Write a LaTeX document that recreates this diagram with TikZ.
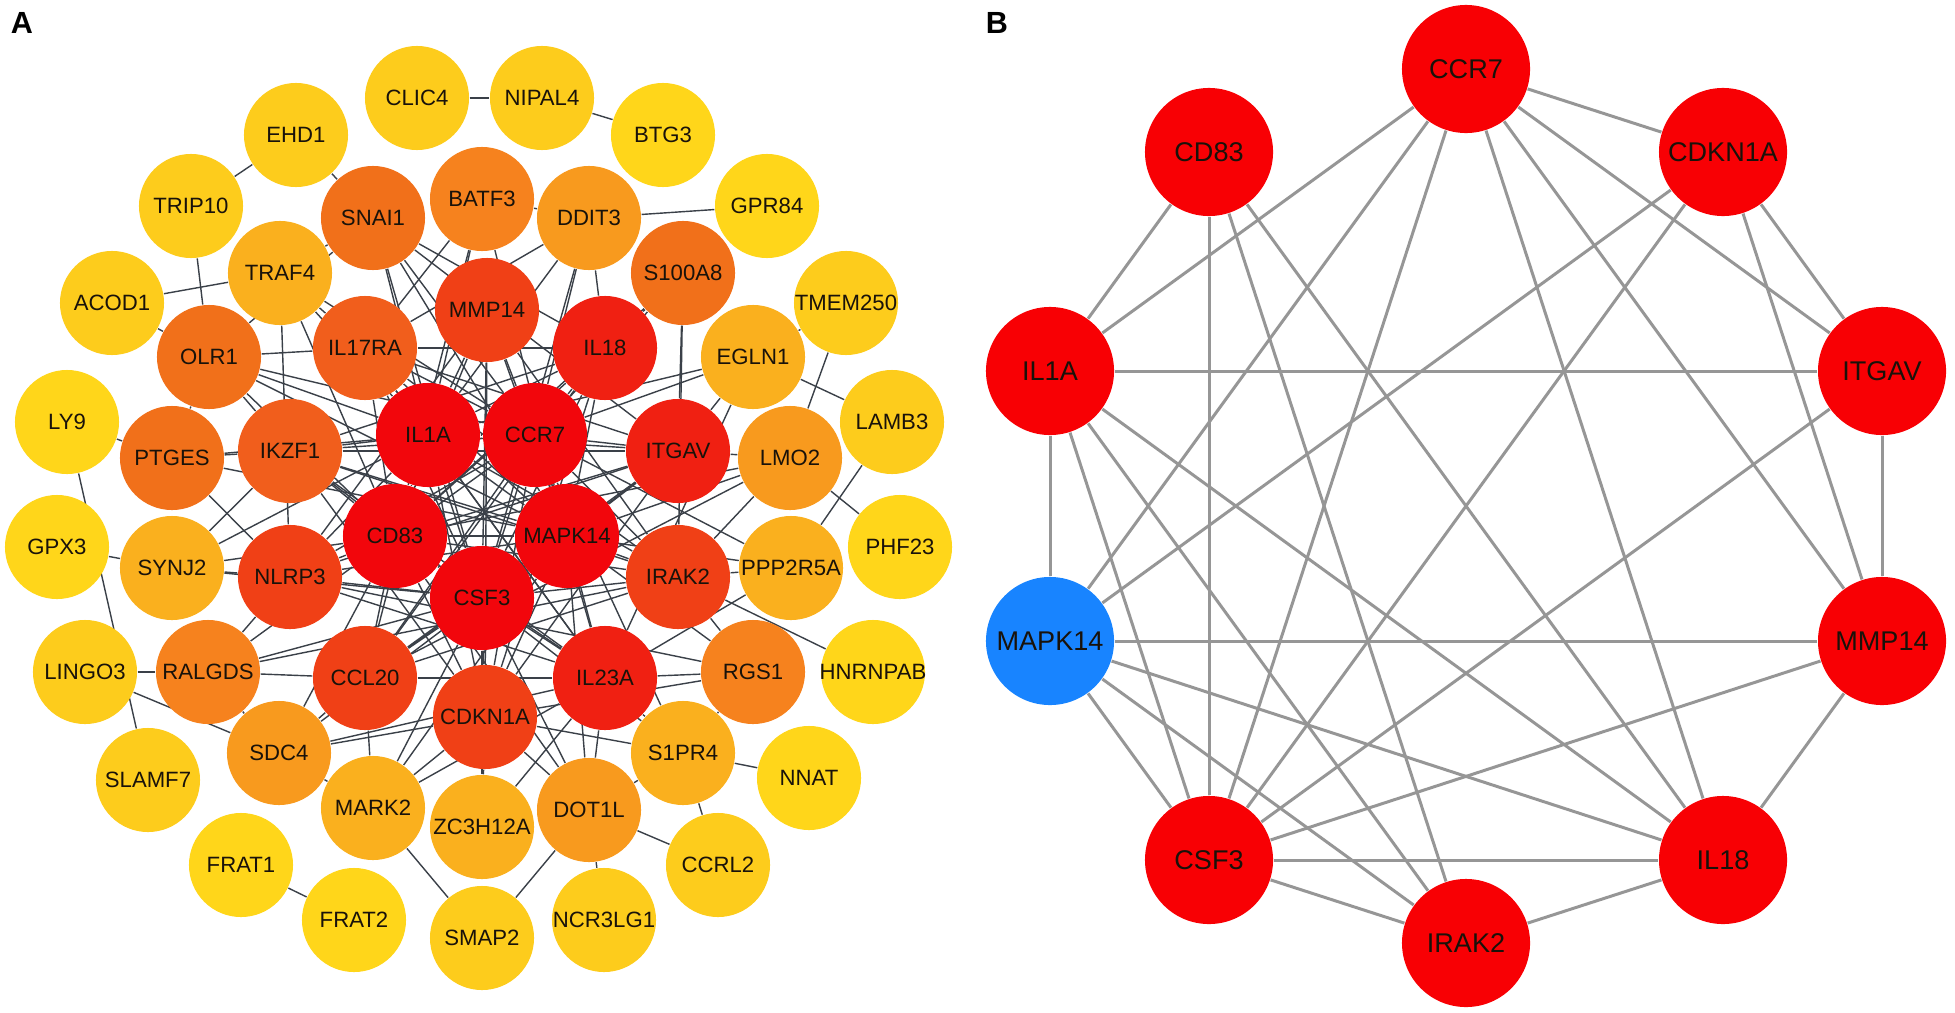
\documentclass[tikz,border=0pt]{standalone}
\usepackage{fontspec}
\setmainfont{Liberation Sans}
\usetikzlibrary{backgrounds}

\definecolor{hubred}{RGB}{242,6,12}
\definecolor{redA}{RGB}{240,32,18}
\definecolor{redB}{RGB}{240,64,22}
\definecolor{redC}{RGB}{241,94,28}
\definecolor{orA}{RGB}{241,112,26}
\definecolor{orB}{RGB}{246,130,30}
\definecolor{orC}{RGB}{248,154,30}
\definecolor{amb}{RGB}{250,176,30}
\definecolor{ylA}{RGB}{253,204,28}
\definecolor{ylB}{RGB}{255,214,26}
\definecolor{topred}{RGB}{248,0,4}
\definecolor{pickblue}{RGB}{24,132,255}
\definecolor{genetext}{RGB}{25,18,10}
\definecolor{edgeA}{RGB}{58,64,72}
\definecolor{edgeB}{RGB}{150,150,150}

\newcommand{\gn}[1]{\makebox[0pt]{#1}}

\tikzset{
  gene/.style={circle, minimum size=1.04cm, inner sep=0pt, text=genetext,
    font=\fontsize{6.3}{7}\selectfont},
  hub/.style={circle, minimum size=1.28cm, inner sep=0pt, text=genetext,
    font=\fontsize{7.7}{9}\selectfont},
  aedge/.style={draw=edgeA, line width=0.4pt},
  bedge/.style={draw=edgeB, line width=0.85pt},
  panel/.style={font=\fontsize{8.7}{10}\selectfont\bfseries}
}

\begin{document}
\begin{tikzpicture}[x=0.01cm, y=-0.01cm]
	\useasboundingbox (0,0) rectangle (1955,1012);
	\node[panel] (lblA) at (22,23) {A};
	\node[panel] (lblB) at (997,23) {B};

	% panel A: concentric rings by degree
	\foreach \n/\x/\y/\c in {IL1A/428/435/hubred, CCR7/535/435/hubred, CD83/395/536/hubred,
		MAPK14/567/536/hubred, CSF3/482/598/hubred,
		IL18/605/348/redA, ITGAV/678/451/redA, IL23A/605/678/redA,
		IRAK2/678/577/redB, CDKN1A/485/717/redB, CCL20/365/678/redB, NLRP3/290/577/redB,
		MMP14/487/310/redB, IKZF1/290/451/redC, IL17RA/365/348/redC,
		SNAI1/373/218/orA, OLR1/209/357/orA, S100A8/683/273/orA, PTGES/172/458/orA,
		BATF3/482/199/orB, RALGDS/208/672/orB, RGS1/753/672/orB,
		SDC4/279/753/orC, LMO2/790/458/orC, DDIT3/589/218/orC, DOT1L/589/810/orC,
		SYNJ2/172/568/amb, MARK2/373/808/amb, S1PR4/683/753/amb, TRAF4/280/273/amb,
		EGLN1/753/357/amb, ZC3H12A/482/827/amb, PPP2R5A/791/568/amb,
		ACOD1/112/303/ylA, TRIP10/191/206/ylA, EHD1/296/135/ylA, CLIC4/417/98/ylA,
		NIPAL4/542/98/ylA, TMEM250/846/303/ylA, LAMB3/892/422/ylA, LINGO3/85/672/ylA,
		SLAMF7/148/780/ylA, SMAP2/482/938/ylA, NCR3LG1/604/920/ylA, CCRL2/718/865/ylA,
		BTG3/663/135/ylB, GPR84/767/206/ylB, PHF23/900/547/ylB, HNRNPAB/873/672/ylB,
		NNAT/809/778/ylB, FRAT1/241/865/ylB, FRAT2/354/920/ylB, GPX3/57/547/ylB, LY9/67/422/ylB}
		\node[gene, fill=\c] (a-\n) at (\x,\y) {\gn{\n}};

	% panel B: top ten hubs
	\foreach \n/\x/\y/\c in {CCR7/1466/69/topred, CDKN1A/1723/152/topred, ITGAV/1882/371/topred,
		MMP14/1882/641/topred, IL18/1723/860/topred, IRAK2/1466/943/topred,
		CSF3/1209/860/topred, MAPK14/1050/641/pickblue, IL1A/1050/371/topred, CD83/1209/152/topred}
		\node[hub, fill=\c] (b-\n) at (\x,\y) {\gn{\n}};

	\begin{pgfonlayer}{background}
		% core
		\foreach \s/\t in {IL1A/CCR7, IL1A/CD83, IL1A/MAPK14, IL1A/CSF3, CCR7/CD83, CCR7/MAPK14,
			CCR7/CSF3, CD83/MAPK14, CD83/CSF3, MAPK14/CSF3}
			\draw[aedge] (a-\s) -- (a-\t);
		\foreach \r in {IL18, MMP14, IL17RA, IKZF1, NLRP3, CCL20, CDKN1A, IL23A, IRAK2, ITGAV}
			\foreach \c in {IL1A, CCR7, CD83, MAPK14, CSF3}
				\draw[aedge] (a-\r) -- (a-\c);
		\foreach \s/\t in {IL18/IL17RA, IL18/IKZF1, IL18/CCL20, MMP14/NLRP3, MMP14/CDKN1A, MMP14/IRAK2,
			IL17RA/ITGAV, IL17RA/IL23A, IKZF1/ITGAV, IKZF1/IRAK2, NLRP3/ITGAV, NLRP3/IL23A,
			CCL20/IL23A, CCL20/ITGAV, CDKN1A/IL18, CDKN1A/IKZF1, IL23A/IKZF1, IRAK2/CCL20,
			ITGAV/CDKN1A, IRAK2/IL17RA}
			\draw[aedge] (a-\s) -- (a-\t);
		% middle ring
		\foreach \s/\t in {SNAI1/IL1A, SNAI1/CCR7, SNAI1/MAPK14, SNAI1/IL18, SNAI1/CSF3, SNAI1/ITGAV,
			BATF3/IL1A, BATF3/CD83, BATF3/MAPK14, BATF3/IL17RA, BATF3/DDIT3,
			DDIT3/CCR7, DDIT3/IL18, DDIT3/CSF3, DDIT3/IL17RA, DDIT3/IL1A,
			S100A8/IL18, S100A8/ITGAV, S100A8/IRAK2, S100A8/CCR7, S100A8/CD83,
			EGLN1/ITGAV, EGLN1/CCR7, EGLN1/IL23A, EGLN1/IL1A,
			LMO2/ITGAV, LMO2/MAPK14, LMO2/IRAK2, LMO2/CD83, LMO2/CCL20,
			PPP2R5A/IRAK2, PPP2R5A/MAPK14, PPP2R5A/CCR7, PPP2R5A/IL23A,
			RGS1/IL23A, RGS1/IRAK2, RGS1/MAPK14, RGS1/CDKN1A, RGS1/NLRP3,
			S1PR4/IL23A, S1PR4/CSF3, S1PR4/CDKN1A, S1PR4/CCR7,
			DOT1L/CDKN1A, DOT1L/IL23A, DOT1L/CSF3, DOT1L/MAPK14, DOT1L/CD83,
			ZC3H12A/CDKN1A, ZC3H12A/CSF3, ZC3H12A/IL23A,
			MARK2/CDKN1A, MARK2/CCL20, MARK2/CSF3, MARK2/MAPK14, MARK2/IL23A,
			SDC4/CCL20, SDC4/CDKN1A, SDC4/CD83, SDC4/IL23A, SDC4/MAPK14,
			RALGDS/CCL20, RALGDS/NLRP3, RALGDS/CSF3, RALGDS/CD83, RALGDS/IRAK2,
			SYNJ2/NLRP3, SYNJ2/CD83, SYNJ2/IKZF1, SYNJ2/IL1A, SYNJ2/CSF3,
			PTGES/IKZF1, PTGES/IL1A, PTGES/NLRP3, PTGES/OLR1, PTGES/MAPK14,
			OLR1/IL17RA, OLR1/IL1A, OLR1/IKZF1, OLR1/CCR7, OLR1/CD83, OLR1/SNAI1, OLR1/MAPK14,
			TRAF4/IL17RA, TRAF4/IL1A, TRAF4/CD83, TRAF4/SNAI1, TRAF4/CCR7, TRAF4/NLRP3}
			\draw[aedge] (a-\s) -- (a-\t);
		% outer ring
		\foreach \s/\t in {CLIC4/NIPAL4, NIPAL4/BTG3, EHD1/TRIP10, EHD1/SNAI1, TRIP10/OLR1,
			ACOD1/TRAF4, ACOD1/OLR1, GPR84/DDIT3, TMEM250/EGLN1, TMEM250/LMO2, LAMB3/EGLN1,
			LAMB3/PPP2R5A, PHF23/LMO2, HNRNPAB/IRAK2, LY9/PTGES, LY9/SLAMF7, GPX3/SYNJ2,
			LINGO3/RALGDS, LINGO3/SDC4, FRAT1/FRAT2, MARK2/SMAP2, SMAP2/DOT1L, NCR3LG1/DOT1L,
			DOT1L/CCRL2, S1PR4/CCRL2, S1PR4/NNAT, S1PR4/DOT1L, RGS1/S1PR4, RALGDS/SDC4, SDC4/MARK2}
			\draw[aedge] (a-\s) -- (a-\t);

		% panel B
		\foreach \s/\t in {CCR7/CDKN1A, CCR7/ITGAV, CCR7/MMP14, CCR7/IL18, CCR7/CSF3, CCR7/MAPK14,
			CCR7/IL1A, CDKN1A/ITGAV, CDKN1A/MMP14, CDKN1A/CSF3, CDKN1A/MAPK14,
			ITGAV/MMP14, ITGAV/IL1A, ITGAV/CSF3, MMP14/IL18, MMP14/MAPK14, MMP14/CSF3,
			IL18/IRAK2, IL18/CSF3, IL18/MAPK14, IL18/IL1A, IL18/CD83,
			IRAK2/CSF3, IRAK2/IL1A, IRAK2/CD83, IRAK2/MAPK14,
			CSF3/MAPK14, CSF3/IL1A, CSF3/CD83, MAPK14/IL1A, IL1A/CD83}
			\draw[bedge] (b-\s) -- (b-\t);
	\end{pgfonlayer}
\end{tikzpicture}
\end{document}
